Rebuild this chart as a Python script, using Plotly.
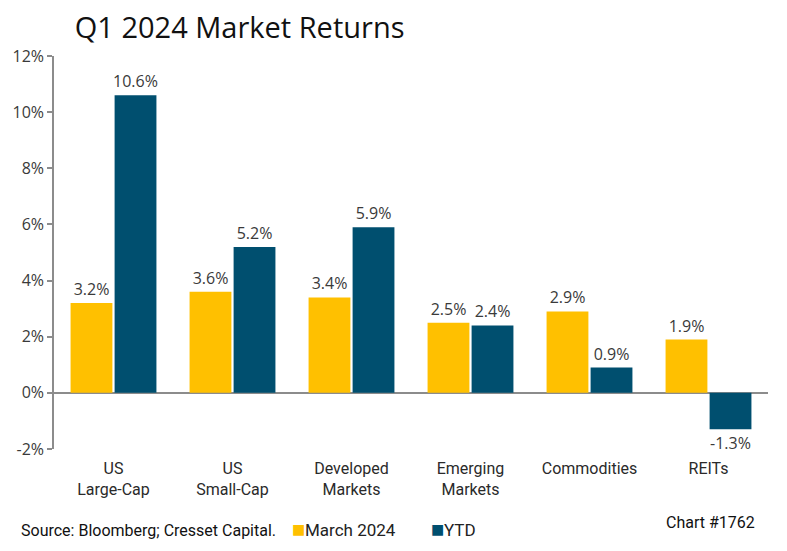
import plotly.graph_objects as go

categories = ["US<br>Large-Cap", "US<br>Small-Cap", "Developed<br>Markets", "Emerging<br>Markets", "Commodities", "REITs"]
march_2024 = [3.2, 3.6, 3.4, 2.5, 2.9, 1.9]
ytd = [10.6, 5.2, 5.9, 2.4, 0.9, -1.3]
tick_vals = [-2, 0, 2, 4, 6, 8, 10, 12]
tick_text = ["-2%", "0%", "2%", "4%", "6%", "8%", "10%", "12%"]
series_names = ["March 2024", "YTD"]
series_colors = ["#FFC000", "#004F6F"]

FONT = "Open Sans"
TXT = "#3a3a3a"

fig = go.Figure()
for name, vals, col in zip(series_names, [march_2024, ytd], series_colors):
    fig.add_trace(go.Bar(
        x=categories, y=vals, name=name,
        marker=dict(color=col, line=dict(width=0)),
        text=[f"{v:.1f}%" for v in vals], textposition="outside",
        constraintext="none",
        textfont=dict(size=16, color=TXT, family=FONT), cliponaxis=False,
    ))

fig.update_layout(
    width=787, height=551,
    margin=dict(l=54, r=19, t=56, b=102, autoexpand=False),
    paper_bgcolor="white", plot_bgcolor="white",
    barmode="group", bargap=0.26, bargroupgap=0.05,
    font=dict(family=FONT, color=TXT, size=14),
    title=dict(text="Q1 2024 Market Returns", x=0.095, xanchor="left", y=0.95, yanchor="middle",
               font=dict(size=29, color="#111111", family=FONT)),
    showlegend=False,
    uniformtext=dict(mode=False),
)
fig.update_yaxes(
    range=[-2, 12], tickvals=tick_vals, ticktext=tick_text,
    showgrid=False, zeroline=True, zerolinecolor="#8c8c8c", zerolinewidth=1.5,
    showline=True, linecolor="#8c8c8c", linewidth=1.5,
    ticks="outside", ticklen=5, tickcolor="#8c8c8c", tickwidth=1.5,
    tickfont=dict(size=16, color=TXT, family=FONT),
)
fig.update_xaxes(
    showgrid=False, showline=False, ticks="",
    tickfont=dict(size=16, color="#2a2a2a", family="Roboto"),
    ticklabelstandoff=8,
)
fig.add_annotation(text="Source: Bloomberg; Cresset Capital.", xref="paper", yref="paper",
                   x=-0.049, y=-0.208, xanchor="left", yanchor="middle", showarrow=False,
                   font=dict(size=16, color="#111111", family="Roboto"))
# legend entries
for name, col, xp in zip(series_names, series_colors, [0.330, 0.525]):
    fig.add_annotation(text=f"<span style='color:{col}'>■</span>", xref="paper", yref="paper",
                       x=xp, y=-0.203, xanchor="left", yanchor="middle", showarrow=False,
                       font=dict(size=14, family="DejaVu Sans"))
    fig.add_annotation(text=name, xref="paper", yref="paper",
                       x=xp + 0.019, y=-0.205, xanchor="left", yanchor="middle", showarrow=False,
                       font=dict(size=17, color="#222222", family="Roboto"))
fig.add_annotation(text="Chart #1762", xref="paper", yref="paper",
                   x=0.985, y=-0.186, xanchor="right", yanchor="middle", showarrow=False,
                   font=dict(size=16, color="#111111", family="Roboto"))

fig.write_html("out.html")
